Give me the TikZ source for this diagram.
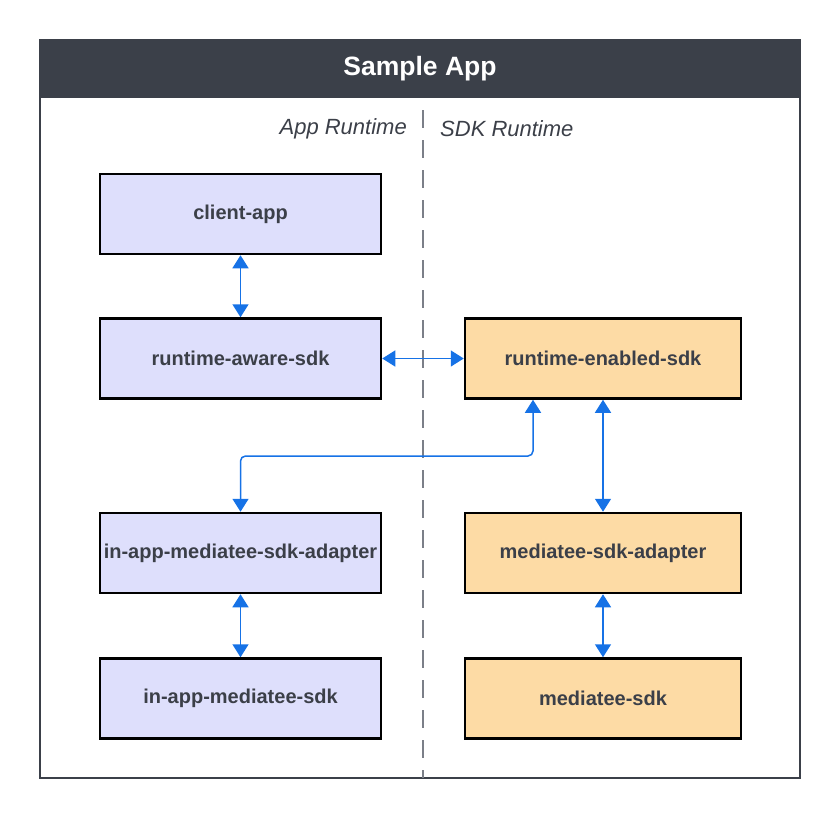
\documentclass[tikz,border=0pt]{standalone}
\usepackage{fontspec}
\setmainfont{Liberation Sans}
\usetikzlibrary{arrows.meta}
\definecolor{hdrgray}{HTML}{3B4049}
\definecolor{txtgray}{HTML}{3B3F48}
\definecolor{dashgray}{HTML}{7B7F88}
\definecolor{lav}{HTML}{DEDFFC}
\definecolor{peach}{HTML}{FDDBA5}
\definecolor{arrblue}{HTML}{1672E6}
\tikzset{
  box/.style={draw=black, line width=2.5pt, minimum height=80pt, inner sep=0pt,
    font=\fontsize{20}{24}\selectfont\bfseries, text=txtgray},
  appbox/.style={box, fill=lav, minimum width=281pt},
  sdkbox/.style={box, fill=peach, minimum width=276pt},
  conn/.style={draw=arrblue, line width=1.5pt,
    {Triangle[length=13pt,width=16pt]}-{Triangle[length=13pt,width=16pt]}},
  sidelabel/.style={font=\fontsize{22}{26}\selectfont\itshape, text=txtgray, inner sep=0pt}
}
\begin{document}
\begin{tikzpicture}[x=1pt,y=-1pt]
\useasboundingbox (0,0) rectangle (840,820);
% frame and header
\node[draw=hdrgray, line width=2pt, minimum width=760pt, minimum height=738pt, inner sep=0pt] (frm) at (420,409) {};
\node[fill=hdrgray, draw=hdrgray, line width=2pt, minimum width=760pt, minimum height=57pt, inner sep=0pt,
  text=white, font=\fontsize{26.5}{30}\selectfont\bfseries] (hdr) at (420,68.5) {Sample App};
% divider
\coordinate (dtop) at (423,110);
\coordinate (dbot) at (423,778);
\draw[dashgray, line width=2pt, dash pattern=on 18pt off 12pt] (dtop) -- (dbot);
\node[sidelabel, anchor=east] (appr) at (407,129) {App Runtime};
\node[sidelabel, anchor=west] (sdkr) at (440,129) {SDK Runtime};
% boxes
\node[appbox] (ca) at (240.5,214) {client-app};
\node[appbox] (ras) at (240.5,358.5) {runtime-aware-sdk};
\node[appbox] (iad) at (240.5,553) {in-app-mediatee-sdk-adapter};
\node[appbox] (ias) at (240.5,698.5) {in-app-mediatee-sdk};
\node[sdkbox] (res) at (603,358.5) {runtime-enabled-sdk};
\node[sdkbox] (msa) at (603,553) {mediatee-sdk-adapter};
\node[sdkbox] (ms) at (603,698.5) {mediatee-sdk};
% connectors
\draw[conn] (ca.south) -- (ras.north);
\draw[conn] (ras.east) -- (res.west);
\draw[conn] (iad.south) -- (ias.north);
\draw[conn] (res.south) -- (msa.north);
\draw[conn] (msa.south) -- (ms.north);
\coordinate (elb) at (0,456);
\draw[conn, rounded corners=5pt] ([xshift=-70pt]res.south) |- (elb -| iad.north) -- (iad.north);
\end{tikzpicture}
\end{document}
